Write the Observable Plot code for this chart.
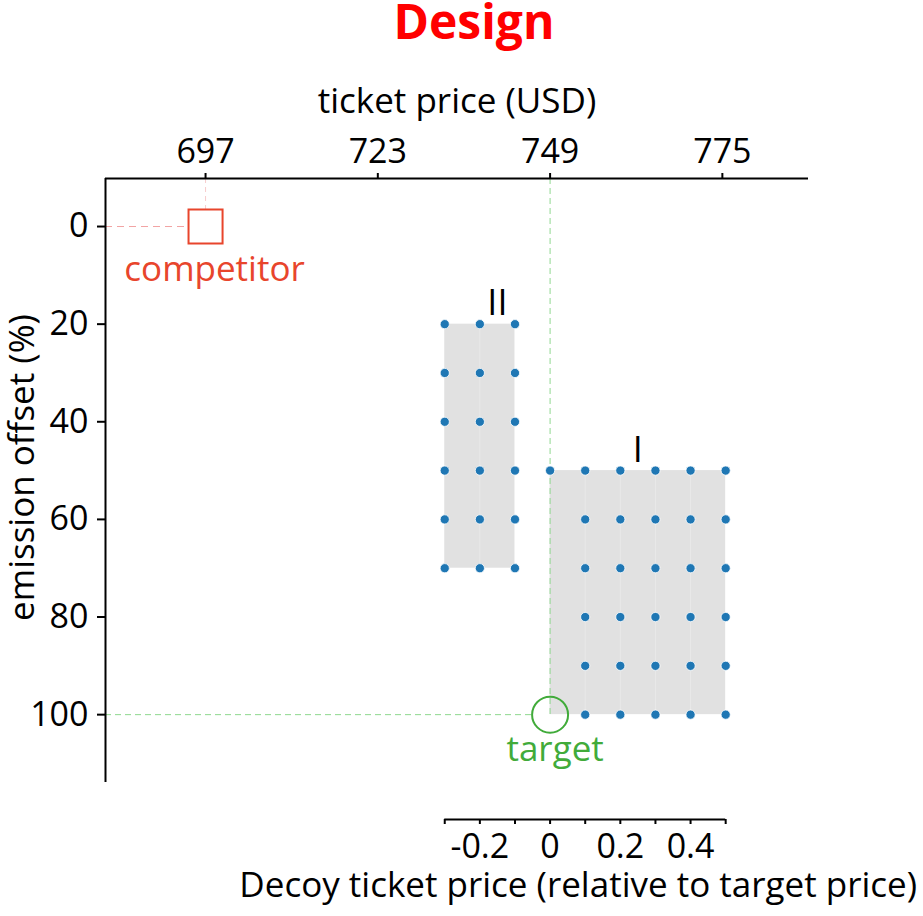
<!DOCTYPE html>
<html>
<head>
<meta charset="utf-8">
<script src="https://cdn.jsdelivr.net/npm/d3@7"></script>
<script src="https://cdn.jsdelivr.net/npm/@observablehq/plot@0.6"></script>
<style>
  html, body { margin: 0; padding: 0; background: #fff; }
  #chart { width: 923px; height: 916px; }
</style>
</head>
<body>
<div id="chart"></div>
<script>
// ---- data ----
const titleText = "Design";
const priceTicks = [697, 723, 749, 775];
const offsetTicks = [0, 20, 40, 60, 80, 100];
const relTicks = [-0.3, -0.2, -0.1, 0, 0.1, 0.2, 0.3, 0.4, 0.5];
const relTickLabels = ["", "-0.2", "", "0", "", "0.2", "", "0.4", ""];
const competitorPrice = 697, competitorOffset = 0;
const targetPrice = 749, targetOffset = 100;
const usdPerRelUnit = 53;
const regionNames = ["I", "II"];
const regionRelX = [[0, 0.5], [-0.3, -0.1]];
const regionOffsets = [[50, 100], [20, 70]];
const regionLabelRel = [0.25, -0.15];
// decoy points of region I: at relative price 0 only the top row is sampled
const regionIRel = [0, 0.1, 0.2, 0.3, 0.4, 0.5];
const regionIOffsetsByRel = [
  [50],
  [50, 60, 70, 80, 90, 100],
  [50, 60, 70, 80, 90, 100],
  [50, 60, 70, 80, 90, 100],
  [50, 60, 70, 80, 90, 100],
  [50, 60, 70, 80, 90, 100]
];
const regionIIRel = [-0.3, -0.2, -0.1];
const regionIIOffsets = [20, 30, 40, 50, 60, 70];

// ---- derived ----
const relToPrice = r => targetPrice + r * usdPerRelUnit;
const xDomain = [681.9, 788];
const yDomain = [-9.84, 113.9];
const relPrices = relTicks.map(relToPrice);
const relLabelMap = new Map(relPrices.map((p, i) => [p, relTickLabels[i]]));

const regions = regionNames.map((name, i) => ({
  name,
  x1: relToPrice(regionRelX[i][0]), x2: relToPrice(regionRelX[i][1]),
  y1: regionOffsets[i][0], y2: regionOffsets[i][1],
  lx: relToPrice(regionLabelRel[i])
}));

const decoys = [];
regionIRel.forEach((r, i) => regionIOffsetsByRel[i].forEach(o => decoys.push({price: relToPrice(r), offset: o})));
for (const r of regionIIRel) for (const o of regionIIOffsets)
  decoys.push({price: relToPrice(r), offset: o});

const gridCols = [
  ...regionIRel.slice(1, -1).map(r => ({price: relToPrice(r), y1: regionOffsets[0][0], y2: regionOffsets[0][1]})),
  ...regionIIRel.slice(1, -1).map(r => ({price: relToPrice(r), y1: regionOffsets[1][0], y2: regionOffsets[1][1]}))
];

const red = "#e8452c", green = "#41ab3a";
const FS = 35;

const plot = Plot.plot({
  width: 923,
  height: 916,
  marginTop: 178,
  marginBottom: 134,
  marginLeft: 105,
  marginRight: 115,
  style: {fontFamily: "'Open Sans', sans-serif", background: "#fff", color: "#000"},
  x: {domain: xDomain},
  y: {domain: yDomain, reverse: true},
  marks: [
    // title
    Plot.text([titleText], {frameAnchor: "top", dx: 17, dy: -140, lineAnchor: "bottom",
      fontSize: 48, fontWeight: "bold", fill: "#ff0000"}),
    // competitor guide lines
    Plot.ruleY([competitorOffset], {x1: xDomain[0], x2: competitorPrice, stroke: "#f2a3a3", strokeDasharray: "7,5", strokeWidth: 1}),
    Plot.ruleX([competitorPrice], {y1: yDomain[0], y2: competitorOffset, stroke: "#f7cccc", strokeDasharray: "5,4", strokeWidth: 1}),
    // target horizontal guide
    Plot.ruleY([targetOffset], {x1: xDomain[0], x2: targetPrice, stroke: "#8fd88f", strokeDasharray: "6,4", strokeWidth: 1}),
    // white fill under target circle
    Plot.dot([{price: targetPrice, offset: targetOffset}], {x: "price", y: "offset", r: 18, fill: "#fff", stroke: "none"}),
    // decoy regions
    Plot.rect(regions, {x1: "x1", x2: "x2", y1: "y1", y2: "y2", fill: "#e1e1e1"}),
    Plot.ruleX(gridCols, {x: "price", y1: "y1", y2: "y2", stroke: "#e8e8e8", strokeWidth: 1}),
    // target vertical guide
    Plot.ruleX([targetPrice], {y1: yDomain[0], y2: targetOffset, stroke: "#8fd88f", strokeDasharray: "6,4", strokeWidth: 1}),
    // region labels
    Plot.text(regions, {x: "lx", y: "y1", text: "name", dy: -9, lineAnchor: "bottom", fontSize: 36, fill: "#000"}),
    // decoy dots
    Plot.dot(decoys, {x: "price", y: "offset", r: 4.6, fill: "#1f77b4", stroke: "#fff", strokeWidth: 0.8}),
    // competitor
    Plot.dot([{price: competitorPrice, offset: competitorOffset}], {x: "price", y: "offset", symbol: "square", r: 19.2, fill: "#fff", stroke: red, strokeWidth: 2}),
    Plot.text(["competitor"], {x: [competitorPrice], y: [competitorOffset], dx: 9, dy: 54, lineAnchor: "bottom", fontSize: FS, fill: red}),
    // target
    Plot.dot([{price: targetPrice, offset: targetOffset}], {x: "price", y: "offset", r: 18, fill: "none", stroke: green, strokeWidth: 2}),
    Plot.text(["target"], {x: [targetPrice], y: [targetOffset], dx: 5, dy: 46, lineAnchor: "bottom", fontSize: FS, fill: green}),
    // axis lines
    Plot.ruleY([yDomain[0]], {stroke: "#000", strokeWidth: 2}),
    Plot.ruleX([xDomain[0]], {stroke: "#000", strokeWidth: 2}),
    // top axis
    Plot.axisX(priceTicks, {anchor: "top", tickSize: 6, tickPadding: 10, fontSize: 34, strokeWidth: 2, label: null}),
    Plot.text(["ticket price (USD)"], {frameAnchor: "top", dy: -66, lineAnchor: "bottom", fontSize: FS, fill: "#000"}),
    // left axis
    Plot.axisY(offsetTicks, {anchor: "left", tickSize: 8, tickPadding: 9, fontSize: 34, strokeWidth: 2, label: null}),
    Plot.text(["emission offset (%)"], {frameAnchor: "left", rotate: -90, textAnchor: "middle", dx: -83, dy: -13,
      lineAnchor: "middle", fontSize: FS, fill: "#000"}),
    // bottom relative axis
    Plot.ruleY([yDomain[1]], {x1: relPrices[0], x2: relPrices[relPrices.length - 1], dy: 37, stroke: "#000", strokeWidth: 2}),
    Plot.axisX(relPrices, {anchor: "bottom", dy: 37, tickSize: 5, tickPadding: 9, fontSize: 34, strokeWidth: 2,
      tickFormat: d => relLabelMap.get(d), label: null}),
    Plot.text(["Decoy ticket price (relative to target price)"], {x: [d3.mean(d3.extent(relPrices))], frameAnchor: "bottom",
      dx: -7, dy: 114, lineAnchor: "bottom", fontSize: FS, fill: "#000"})
  ]
});
document.getElementById("chart").appendChild(plot);
</script>
</body>
</html>
